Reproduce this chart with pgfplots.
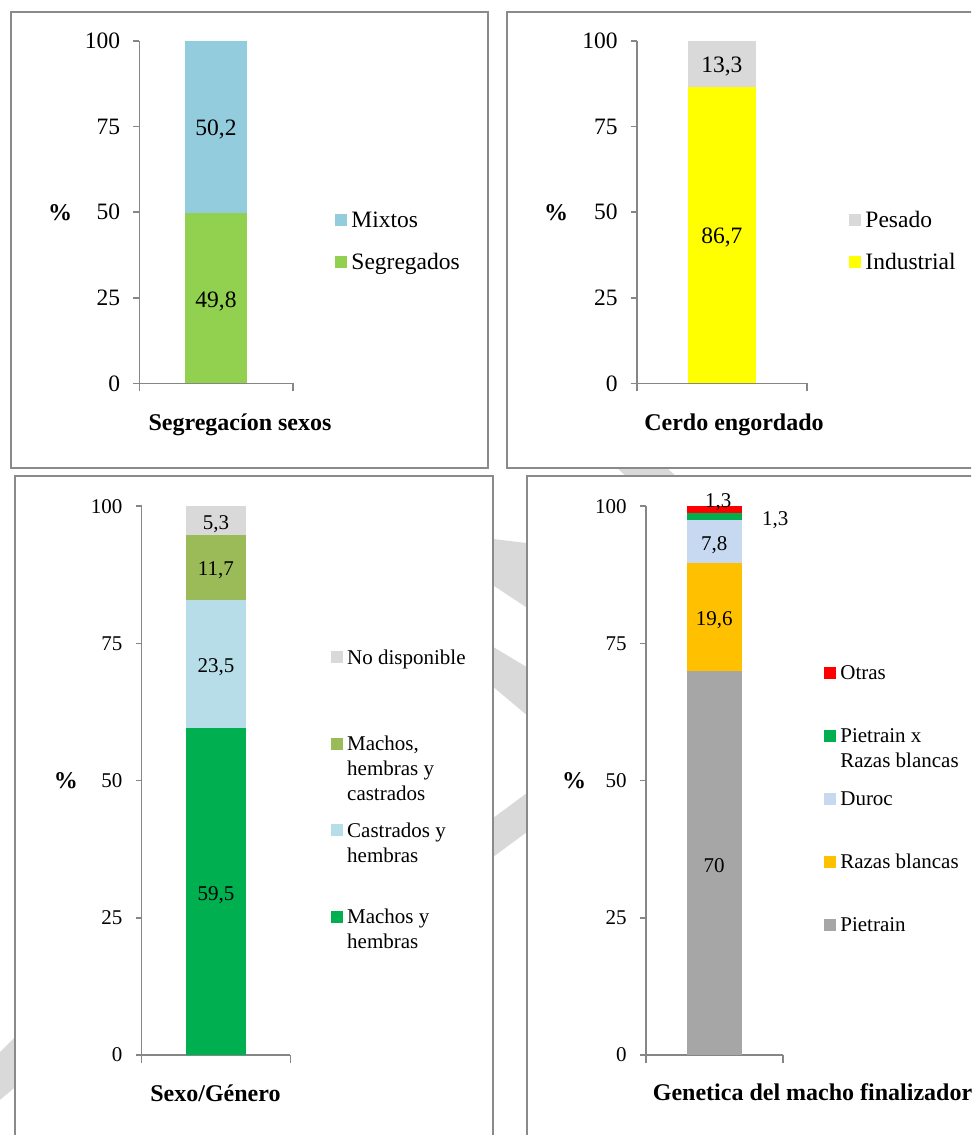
\documentclass[border=0pt]{standalone}
\usepackage{fontspec}
\setmainfont{Liberation Serif}
\usepackage{pgfplots}
\pgfplotsset{compat=1.18}

\definecolor{axisgray}{HTML}{868686}
\definecolor{framegray}{HTML}{8A8A8A}
\definecolor{wmgray}{HTML}{D9D9D9}
\definecolor{cMixtos}{HTML}{93CDDD}
\definecolor{cSegreg}{HTML}{92D050}
\definecolor{cPesado}{HTML}{D9D9D9}
\definecolor{cIndus}{HTML}{FFFF00}
\definecolor{cNoDisp}{HTML}{D9D9D9}
\definecolor{cMHC}{HTML}{9BBB59}
\definecolor{cCH}{HTML}{B7DEE8}
\definecolor{cMH}{HTML}{00B050}
\definecolor{cOtras}{HTML}{FF0000}
\definecolor{cPxR}{HTML}{00B050}
\definecolor{cDuroc}{HTML}{C6D9F1}
\definecolor{cRazas}{HTML}{FFC000}
\definecolor{cPietrain}{HTML}{A6A6A6}

% one stacked segment with its value as label
\newcommand{\segment}[3][]{%
  \addplot[fill=#2, draw=none, #1] coordinates {(0.5,#3) [#3]};}
% legend text: first line aligned with the key, further lines hang below
\newcommand{\legtext}[2]{\strut\raisebox{0pt}[\height][0pt]{\parbox[t]{#1}{\strut #2}}}

\pgfplotsset{
  panel/.style={
    scale only axis, anchor=south west,
    ybar stacked, bar width=0.4,
    xmin=0, xmax=1, ymin=0, ymax=100,
    axis x line*=bottom, axis y line*=left,
    axis line style={draw=axisgray, line width=0.8pt, -},
    xtick={0,1}, xticklabels={},
    ytick={0,25,50,75,100},
    tick align=outside,
    major tick length=3pt,
    tick style={draw=axisgray, line width=0.8pt},
    xtick style={/pgfplots/major tick length=4pt},
    yticklabel style={xshift=-3pt},
    clip=false,
    point meta=explicit,
    /pgf/number format/use comma,
    /pgf/number format/assume math mode=true,
    nodes near coords={\pgfmathprintnumber{\pgfplotspointmeta}},
    every node near coord/.append style={anchor=center, text=black, yshift=-1.5pt},
    reverse legend,
    legend style={draw=none, fill=none, inner sep=0pt, anchor=north west,
      cells={anchor=base west, inner sep=0pt},
      /tikz/every even column/.append style={column sep=2pt}},
    legend image code/.code={\fill[##1, draw=none] (0pt,0.6pt) rectangle (6pt,6.6pt);},
  },
  toppanel/.style={panel, font=\fontsize{11.75}{14}\selectfont,
    width=76.7pt, height=171.15pt,
    legend style={row sep=5.5pt}},
  botpanel/.style={panel, font=\fontsize{10.5}{12.5}\selectfont,
    height=274.4pt},
}

\begin{document}
\begin{tikzpicture}
\path[use as bounding box] (0pt,0pt) rectangle (485.5pt,-567.5pt);
\clip (0pt,0pt) rectangle (485.5pt,-567.5pt);
\begin{scope}[x=0.5pt, y=-0.5pt]
  % grey background bands
  \fill[wmgray] (485,538) -- (535,544) -- (535,613) -- (485,580) -- cycle;
  \fill[wmgray] (485,642) -- (535,672) -- (535,722) -- (485,680) -- cycle;
  \fill[wmgray] (485,824) -- (535,787) -- (535,826) -- (485,863) -- cycle;
  \fill[wmgray] (-5,1057) -- (25,1027) -- (25,1079) -- (-5,1104) -- cycle;
  \fill[wmgray] (615,466) -- (665,466) -- (680,480) -- (630,480) -- cycle;
  % panel frames
  \filldraw[fill=white, draw=framegray, line width=0.6pt] (11,12) rectangle (488,468);
  \filldraw[fill=white, draw=framegray, line width=0.6pt] (507,12) rectangle (1000,468);
  \filldraw[fill=white, draw=framegray, line width=0.6pt] (15,476) rectangle (493,1160);
  \filldraw[fill=white, draw=framegray, line width=0.6pt] (527,476) rectangle (1000,1160);
  % titles and axis labels
  \node[font=\fontsize{12}{14}\selectfont\bfseries, anchor=base] at (240,430) {Segregacíon sexos};
  \node[font=\fontsize{12}{14}\selectfont\bfseries, anchor=base] at (734,430) {Cerdo engordado};
  \node[font=\fontsize{12}{14}\selectfont\bfseries, anchor=base] at (215.5,1101) {Sexo/Género};
  \node[font=\fontsize{12}{14}\selectfont\bfseries, anchor=base] at (812.5,1100) {Genetica del macho finalizador};
  \node[font=\fontsize{12}{14}\selectfont\bfseries] at (60,213) {\%};
  \node[font=\fontsize{12}{14}\selectfont\bfseries] at (556,213) {\%};
  \node[font=\fontsize{12}{14}\selectfont\bfseries] at (66,781) {\%};
  \node[font=\fontsize{12}{14}\selectfont\bfseries] at (574,781) {\%};
\end{scope}

% Segregacion de sexos
\begin{axis}[toppanel, at={(69.65pt,-191.65pt)},
  legend style={at={(1.276,0.525)}}]
  \segment{cSegreg}{49.8}
  \addlegendentry{\legtext{70pt}{Segregados}}
  \segment{cMixtos}{50.2}
  \addlegendentry{\legtext{70pt}{Mixtos}}
\end{axis}

% Cerdo engordado
\begin{axis}[toppanel, width=85.15pt, at={(318.35pt,-191.65pt)},
  legend style={at={(1.247,0.525)}}]
  \segment{cIndus}{86.7}
  \addlegendentry{\legtext{70pt}{Industrial}}
  \segment{cPesado}{13.3}
  \addlegendentry{\legtext{70pt}{Pesado}}
\end{axis}

% Sexo / genero
\begin{axis}[botpanel, width=74.4pt, at={(70.75pt,-527.5pt)},
  legend style={at={(1.272,0.752)}, row sep=29pt}]
  \segment{cMH}{59.5}
  \addlegendentry{\legtext{65pt}{Machos y\\hembras}}
  \segment{cCH}{23.5}
  \addlegendentry{\legtext{65pt}{Castrados y\\hembras}}
  \segment{cMHC}{11.7}
  \addlegendentry{\legtext{65pt}{Machos,\\hembras y\\castrados}}
  \segment{cNoDisp}{5.3}
  \addlegendentry{\legtext{65pt}{No disponible}}
\end{axis}

% Genetica del macho finalizador
\begin{axis}[botpanel, width=68.5pt, at={(322.85pt,-527.5pt)},
  legend style={at={(1.301,0.7237)}, row sep=17.25pt}]
  \segment{cPietrain}{70}
  \addlegendentry{\legtext{65pt}{Pietrain}}
  \segment{cRazas}{19.6}
  \addlegendentry{\legtext{65pt}{Razas blancas}}
  \segment{cDuroc}{7.8}
  \addlegendentry{\legtext{65pt}{Duroc}}
  \segment[every node near coord/.append style={xshift=30.5pt}]{cPxR}{1.3}
  \addlegendentry{\legtext{65pt}{Pietrain x\\Razas blancas}}
  \segment[every node near coord/.append style={shift={(axis direction cs:0,1.85)}, xshift=2pt}]{cOtras}{1.3}
  \addlegendentry{\legtext{65pt}{Otras}}
\end{axis}
\end{tikzpicture}
\end{document}
